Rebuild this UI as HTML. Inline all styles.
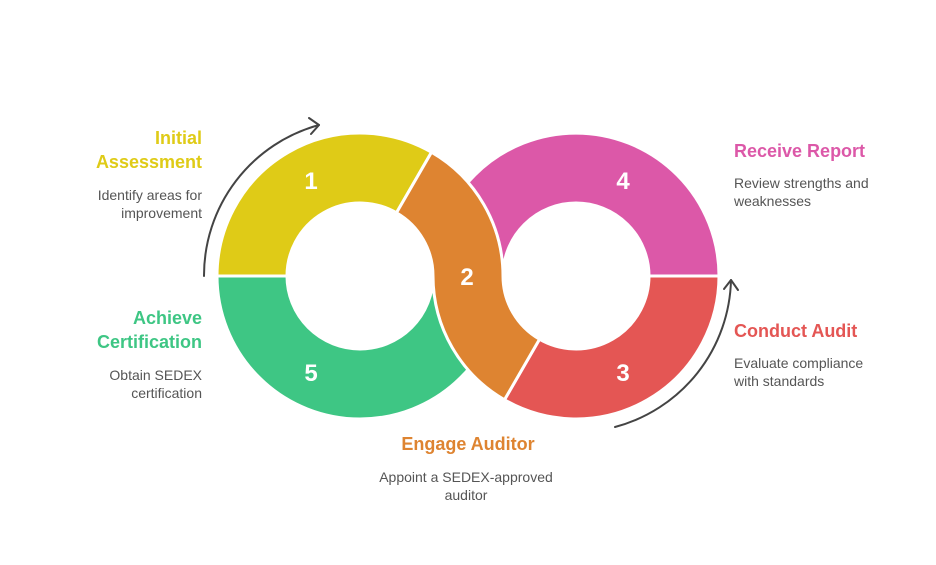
<!DOCTYPE html>
<html><head><meta charset="utf-8"><style>
html,body{margin:0;padding:0;background:#fff;}
svg{display:block;}
.t{font-family:"Liberation Sans",Arial,sans-serif;font-weight:bold;font-size:18px;}
.b{font-family:"Liberation Sans",Arial,sans-serif;font-size:14px;fill:#555;}
.n{font-family:"Liberation Sans",Arial,sans-serif;font-weight:bold;font-size:24px;fill:#fff;}
</style></head><body>
<svg width="936" height="565" viewBox="0 0 936 565" xmlns="http://www.w3.org/2000/svg">
<g stroke="#fff" stroke-width="3" stroke-linejoin="round">
<!-- yellow: left ring 180..300 -->
<path fill="#dfcb17" d="M217,276 A143,143 0 0 1 431.5,152.2 L396.5,212.8 A73,73 0 0 0 287,276 Z"/>
<!-- green: left ring bottom half -->
<path fill="#3ec684" d="M217,276 A143,143 0 0 0 503,276 L433,276 A73,73 0 0 1 287,276 Z"/>
<!-- pink: right ring top half -->
<path fill="#dc58a8" d="M433,276 A143,143 0 0 1 719,276 L649,276 A73,73 0 0 0 503,276 Z"/>
<!-- red: right ring 0..120 -->
<path fill="#e45654" d="M719,276 A143,143 0 0 1 504.5,399.8 L539.5,339.2 A73,73 0 0 0 649,276 Z"/>
<!-- orange S -->
<path fill="#de8431" d="M431.5,152.2 A143,143 0 0 1 503,276 A73,73 0 0 0 539.5,339.2 L504.5,399.8 A143,143 0 0 1 433,276 A73,73 0 0 0 396.5,212.8 Z"/>
</g>
<!-- arrows -->
<g fill="none" stroke="#444" stroke-width="2" stroke-linecap="round" stroke-linejoin="round">
<path d="M204,276 A156,156 0 0 1 319,125"/>
<path d="M309,118 L319,125 L311,134"/>
<path d="M615,427 A156,156 0 0 0 731,280"/>
<path d="M724,289 L731,280 L738,290"/>
</g>
<text class="n" x="311" y="189" text-anchor="middle">1</text>
<text class="n" x="467" y="285" text-anchor="middle">2</text>
<text class="n" x="623" y="381" text-anchor="middle">3</text>
<text class="n" x="623" y="189" text-anchor="middle">4</text>
<text class="n" x="311" y="381" text-anchor="middle">5</text>

<text class="t" fill="#dfcb17" text-anchor="end" x="202" y="144">Initial</text>
<text class="t" fill="#dfcb17" text-anchor="end" x="202" y="168">Assessment</text>
<text class="b" text-anchor="end" x="202" y="200">Identify areas for</text>
<text class="b" text-anchor="end" x="202" y="218">improvement</text>

<text class="t" fill="#3ec684" text-anchor="end" x="202" y="324">Achieve</text>
<text class="t" fill="#3ec684" text-anchor="end" x="202" y="348">Certification</text>
<text class="b" text-anchor="end" x="202" y="380">Obtain SEDEX</text>
<text class="b" text-anchor="end" x="202" y="398">certification</text>

<text class="t" fill="#dc58a8" x="734" y="157">Receive Report</text>
<text class="b" x="734" y="188">Review strengths and</text>
<text class="b" x="734" y="206">weaknesses</text>

<text class="t" fill="#e45654" x="734" y="337">Conduct Audit</text>
<text class="b" x="734" y="368">Evaluate compliance</text>
<text class="b" x="734" y="386">with standards</text>

<text class="t" fill="#de8431" text-anchor="middle" x="468" y="450">Engage Auditor</text>
<text class="b" text-anchor="middle" x="466" y="482">Appoint a SEDEX-approved</text>
<text class="b" text-anchor="middle" x="466" y="500">auditor</text>
</svg>
</body></html>
